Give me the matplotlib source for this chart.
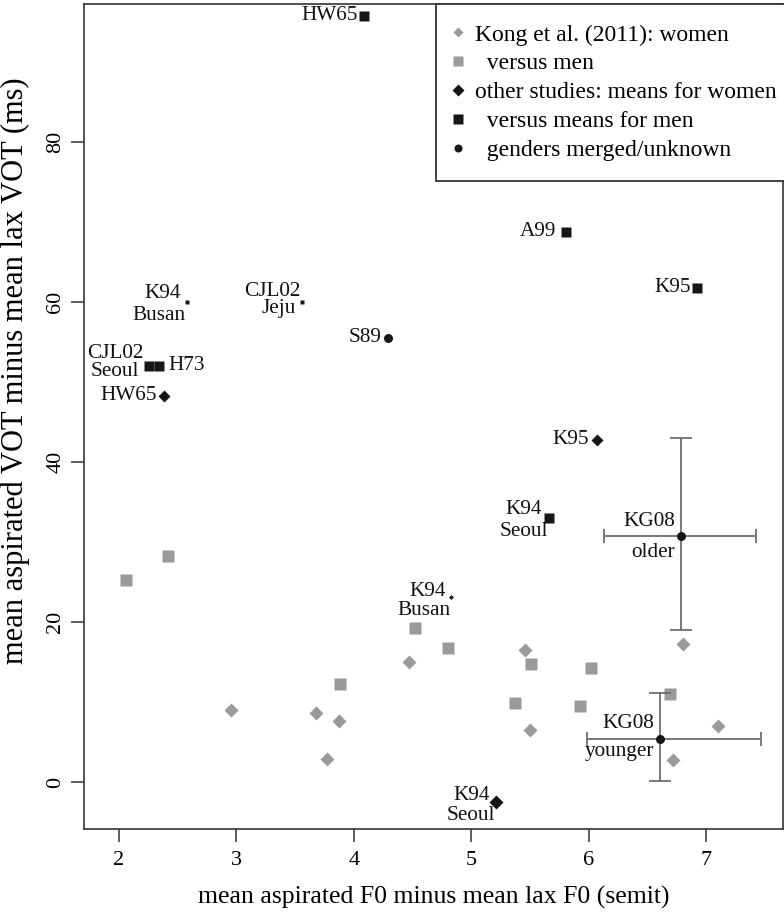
import numpy as np
import matplotlib
matplotlib.use("Agg")
import matplotlib.pyplot as plt
from matplotlib.lines import Line2D

plt.rcParams['font.family'] = ['Liberation Serif', 'DejaVu Serif']

# Kong et al. (2011), per-speaker-group means
kong_women_f0 = [2.95, 3.68, 3.87, 3.77, 4.47, 5.46, 5.50, 6.80, 7.10, 6.72]
kong_women_vot = [9.0, 8.6, 7.6, 2.9, 15.0, 16.5, 6.5, 17.25, 7.0, 2.7]
kong_men_f0 = [2.06, 2.42, 3.88, 4.52, 4.80, 5.51, 6.02, 5.37, 5.93, 6.69]
kong_men_vot = [25.2, 28.3, 12.3, 19.2, 16.7, 14.75, 14.2, 9.9, 9.5, 11.0]

# other studies: women
ow_names = ['HW65', 'K95', 'K94\nBusan', 'K94\nSeoul']
ow_f0 = [2.38, 6.07, 4.83, 5.21]
ow_vot = [48.25, 42.75, 23.1, -2.5]

# other studies: men
om_names = ['HW65', 'K94\nBusan', 'CJL02\nJeju', 'CJL02\nSeoul', 'H73', 'A99', 'K95', 'K94\nSeoul']
om_f0 = [4.09, 2.58, 3.56, 2.255, 2.345, 5.81, 6.92, 5.66]
om_vot = [95.8, 60.0, 60.0, 52.0, 52.0, 68.8, 61.8, 33.0]

# genders merged / unknown
mg_names = ['S89', 'KG08\nolder', 'KG08\nyounger']
mg_f0 = [4.29, 6.79, 6.61]
mg_vot = [55.5, 30.7, 5.4]

# KG08 spread (low, high)
kg_f0_lo = [6.13, 5.99]
kg_f0_hi = [7.43, 7.47]
kg_vot_lo = [19.0, 0.1]
kg_vot_hi = [43.0, 11.1]

# marker sizes (px) for the other-study points
ow_size = [9, 9, 3.5, 9.5]
om_size = [10.5, 4.5, 4.5, 10, 10, 10.5, 10.5, 10.5]
mg_size = [9, 9, 9]

GRAY = '#9a9a9a'
BLACK = '#161616'
PX = 0.72  # points per pixel at dpi 100

fig = plt.figure(figsize=(7.84, 9.17), dpi=100)
ax = fig.add_axes([84 / 784, 88 / 917, 699 / 784, 825 / 917])

ax.plot(kong_women_f0, kong_women_vot, 'D', color=GRAY, ms=9.5 * PX, mec='none')
ax.plot(kong_men_f0, kong_men_vot, 's', color=GRAY, ms=11.5 * PX, mec='none')

for xv, yv, s in zip(ow_f0, ow_vot, ow_size):
    ax.plot(xv, yv, 'D', color=BLACK, ms=s * PX, mec='none')
for xv, yv, s in zip(om_f0, om_vot, om_size):
    ax.plot(xv, yv, 's', color=BLACK, ms=s * PX, mec='none')

# KG08 error bars
ecol = '#6e6e6e'
for i in range(2):
    xv, yv = mg_f0[i + 1], mg_vot[i + 1]
    ax.errorbar(xv, yv, yerr=[[yv - kg_vot_lo[i]], [kg_vot_hi[i] - yv]], fmt='none',
                ecolor=ecol, elinewidth=1.3, capsize=8, capthick=1.3)
    ax.errorbar(xv, yv, xerr=[[xv - kg_f0_lo[i]], [kg_f0_hi[i] - xv]], fmt='none',
                ecolor=ecol, elinewidth=1.3, capsize=5, capthick=1.3)
for xv, yv, s in zip(mg_f0, mg_vot, mg_size):
    ax.plot(xv, yv, 'o', color=BLACK, ms=s * PX, mec='none', zorder=5)

# point labels, offsets in pixels, right-aligned unless stated
lab_fs = 15.3
def label(xv, yv, text, dx, dy, ha='right'):
    ax.annotate(text, (xv, yv), xytext=(dx, dy), textcoords='offset pixels',
                ha=ha, va='center', fontsize=lab_fs, color='#111111')

def label2(xv, yv, name, off1, off2):
    top, bottom = name.split('\n')
    label(xv, yv, top, *off1)
    label(xv, yv, bottom, *off2)

# women
label(ow_f0[0], ow_vot[0], ow_names[0], -7, 0)
label(ow_f0[1], ow_vot[1], ow_names[1], -8, 0)
label2(ow_f0[2], ow_vot[2], ow_names[2], (-5, 6), (-1, -13))
label2(ow_f0[3], ow_vot[3], ow_names[3], (-6, 7), (-1, -13))
# men
label(om_f0[0], om_vot[0], om_names[0], -6, 0)
label2(om_f0[1], om_vot[1], om_names[1], (-6, 9), (-1.5, -13))
label2(om_f0[2], om_vot[2], om_names[2], (-1.5, 11), (-6.5, -6))
label2(om_f0[3], om_vot[3], om_names[3], (-5, 12), (-10, -5))
label(om_f0[4], om_vot[4], om_names[4], 9, 0, ha='left')
label(om_f0[5], om_vot[5], om_names[5], -10, 0)
label(om_f0[6], om_vot[6], om_names[6], -6, 0)
label2(om_f0[7], om_vot[7], om_names[7], (-6.5, 8), (-0.5, -13))
# merged
label(mg_f0[0], mg_vot[0], mg_names[0], -6.5, 0)
label2(mg_f0[1], mg_vot[1], mg_names[1], (-6, 15), (-6, -16))
label2(mg_f0[2], mg_vot[2], mg_names[2], (-6.5, 15.5), (-6, -13))

ax.set_xlim(1.702, 7.656)
ax.set_ylim(-5.875, 97.25)
ax.set_xticks([2, 3, 4, 5, 6, 7])
ax.set_yticks([0, 20, 40, 60, 80])
ax.tick_params(axis='both', direction='out', length=9.5, width=1.1, color='#333333',
               labelsize=16, pad=6)
ax.tick_params(axis='y', pad=4)
for lab in ax.get_yticklabels():
    lab.set_rotation(90)
    lab.set_va('center')
for sp in ax.spines.values():
    sp.set_linewidth(1.2)
    sp.set_color('#333333')

ax.set_xlabel('mean aspirated F0 minus mean lax F0 (semit)', fontsize=18.5, labelpad=12)
ax.set_ylabel('mean aspirated VOT minus mean lax VOT (ms)', fontsize=22)
ax.yaxis.set_label_coords(-0.077, 0.556)

handles = [
    Line2D([], [], ls='none', marker='D', color=GRAY, ms=7 * PX, mec='none'),
    Line2D([], [], ls='none', marker='s', color=GRAY, ms=10 * PX, mec='none'),
    Line2D([], [], ls='none', marker='D', color=BLACK, ms=8 * PX, mec='none'),
    Line2D([], [], ls='none', marker='s', color=BLACK, ms=10 * PX, mec='none'),
    Line2D([], [], ls='none', marker='o', color=BLACK, ms=8 * PX, mec='none'),
]
texts = ['Kong et al. (2011): women', '  versus men', 'other studies: means for women',
         '  versus means for men', '  genders merged/unknown']
leg = ax.legend(handles, texts, loc='upper right', bbox_to_anchor=(1.020, 1.0),
                borderaxespad=0, fontsize=17, frameon=True, fancybox=False,
                framealpha=1, edgecolor='#333333', borderpad=0.85, labelspacing=0.31,
                handlelength=0.2, handletextpad=0.62)
leg.get_frame().set_linewidth(1.3)

fig.savefig('out.png', dpi=100)
